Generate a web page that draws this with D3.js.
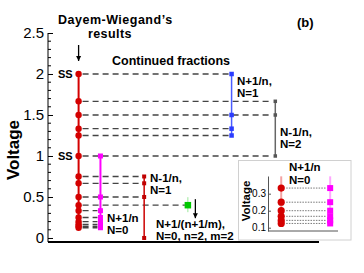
<!DOCTYPE html>
<html>
<head>
<meta charset="utf-8">
<script src="https://cdn.jsdelivr.net/npm/d3@7"></script>
<style>
  body { margin: 0; background: #fff; }
  svg { display: block; font-family: "Liberation Sans", Arial, Helvetica, sans-serif; }
</style>
</head>
<body>
<div id="chart"></div>
<script>
// values
var dayemValues = [2, 1.667, 1.5, 1.333, 1.25, 1, 0.75, 0.667, 0.5, 0.4, 0.333, 0.25, 0.2, 0.167, 0.143, 0.125];
var n0PlusValues = [1, 0.5, 0.333, 0.25, 0.2, 0.167, 0.143, 0.125];
var n1MinusValues = [0.75, 0.667, 0.5, 0];
var mixedValues = [0.4];
var n1PlusValues = [2, 1.5, 1.333, 1.25];
var n2MinusValues = [1.667, 1.5, 1];
var ssValues = [2, 1];
var insetValues = [0.333, 0.25, 0.2, 0.167, 0.143, 0.125];
var yTicks = [0, 0.5, 1, 1.5, 2, 2.5];
var insetTicks = [0.1, 0.2, 0.3];

// column categories and their slot along the (unlabelled) x direction
var columns = ["DW", "N+1/n N=0", "N-1/n N=1", "N+1/(n+1/m)", "N+1/n N=1", "N-1/n N=2"];
var columnSlot = [0, 0.5, 1.5, 2.5, 3.5, 4.5];
var columnValues = [dayemValues, n0PlusValues, n1MinusValues, mixedValues, n1PlusValues, n2MinusValues];

var width = 364, height = 273;
var font = "'Liberation Sans', Arial, Helvetica, sans-serif";

var svg = d3.select("#chart").append("svg")
    .attr("width", width)
    .attr("height", height);

var x = d3.scaleLinear().domain([-0.7, 5.5]).range([48, 319]);
var y = d3.scaleLinear().domain([-0.049, 2.5]).range([242, 33]);

function colX(i) {
    return x(columnSlot[i]);
}

// dashed guide lines: from each Dayem-Wiegand level to the farthest column sharing it
var guides = [];
dayemValues.forEach(function (v) {
    var target = -1;
    for (var i = 1; i < columns.length; i++) {
        if (columnValues[i].some(function (w) { return Math.abs(w - v) < 0.002; })) target = i;
    }
    if (target > 0) guides.push({ v: v, x2: colX(target) });
});

svg.append("g").selectAll("line")
    .data(guides)
    .enter().append("line")
    .attr("x1", colX(0) + 4)
    .attr("x2", function (d) { return d.x2 - 3; })
    .attr("y1", function (d) { return y(d.v); })
    .attr("y2", function (d) { return y(d.v); })
    .style("stroke", "#444")
    .style("stroke-width", 1.3)
    .style("stroke-dasharray", "6,4");

// y axis
var yAxis = d3.axisLeft(y)
    .tickValues(yTicks)
    .tickFormat(function (d) { return d; })
    .tickSizeInner(-5)
    .tickSizeOuter(0)
    .tickPadding(4);

var yg = svg.append("g")
    .attr("transform", "translate(48,0)")
    .call(yAxis);
yg.select(".domain").attr("d", "M0," + y(-0.049) + "V" + y(2.5));
yg.selectAll("text").style("font-size", "15px").style("font-family", font).attr("fill", "#000");

var minor = y.ticks(25).filter(function (t) { return yTicks.indexOf(+t.toFixed(2)) < 0; });
yg.selectAll(".minor")
    .data(minor)
    .enter().append("line")
    .attr("class", "minor")
    .attr("x1", 0).attr("x2", 3)
    .attr("y1", function (d) { return y(d); })
    .attr("y2", function (d) { return y(d); })
    .style("stroke", "#000");

// bottom line
svg.append("line")
    .attr("x1", x.range()[0]).attr("x2", x.range()[1])
    .attr("y1", y(-0.049)).attr("y2", y(-0.049))
    .style("stroke", "#000")
    .style("stroke-width", 2);

svg.append("text")
    .attr("transform", "translate(19,150) rotate(-90)")
    .attr("text-anchor", "middle")
    .style("font-size", "17px")
    .style("font-weight", "bold")
    .text("Voltage");

// vertical series lines and markers
function drawLine(i, color, w) {
    var vals = columnValues[i];
    svg.append("line")
        .attr("x1", colX(i)).attr("x2", colX(i))
        .attr("y1", y(d3.max(vals))).attr("y2", y(d3.min(vals)))
        .style("stroke", color)
        .style("stroke-width", w);
}

function drawSquares(i, color, s) {
    svg.append("g").selectAll("rect")
        .data(columnValues[i])
        .enter().append("rect")
        .attr("x", colX(i) - s / 2)
        .attr("y", function (d) { return y(d) - s / 2; })
        .attr("width", s)
        .attr("height", s)
        .style("fill", color);
}

drawLine(0, "#d40000", 2);
svg.append("g").selectAll("circle")
    .data(dayemValues)
    .enter().append("circle")
    .attr("cx", colX(0))
    .attr("cy", function (d) { return y(d); })
    .attr("r", 3.2)
    .style("fill", "#d40000");

drawLine(1, "#ff00ff", 2);
drawSquares(1, "#ff00ff", 5);

drawLine(2, "#cc0000", 1.5);
drawSquares(2, "#c00000", 4);

// green point with a faint bar
svg.append("line")
    .attr("x1", colX(3)).attr("x2", colX(3))
    .attr("y1", y(mixedValues[0]) - 8).attr("y2", y(mixedValues[0]) + 7)
    .style("stroke", "#9be89b")
    .style("stroke-width", 1);
drawSquares(3, "#00c800", 6.5);

drawLine(4, "#4a5cff", 1.5);
drawSquares(4, "#2b3cff", 4.5);

drawLine(5, "#666", 1.5);
drawSquares(5, "#555", 3.5);

// arrows
svg.append("defs").append("marker")
    .attr("id", "ah")
    .attr("viewBox", "0 0 10 10")
    .attr("refX", 10).attr("refY", 5)
    .attr("markerWidth", 5).attr("markerHeight", 8)
    .attr("markerUnits", "userSpaceOnUse")
    .attr("orient", "auto")
    .append("path").attr("d", "M0,0L10,5L0,10Z").style("fill", "#000");

svg.append("line")
    .attr("x1", colX(0)).attr("x2", colX(0))
    .attr("y1", 45).attr("y2", 61)
    .style("stroke", "#000").style("stroke-width", 1.3)
    .attr("marker-end", "url(#ah)");

svg.append("line")
    .attr("x1", colX(3) + 7.5).attr("x2", colX(3) + 7.5)
    .attr("y1", y(mixedValues[0]) - 6).attr("y2", y(mixedValues[0]) + 13)
    .style("stroke", "#000").style("stroke-width", 1.3)
    .attr("marker-end", "url(#ah)");

// SS labels
svg.append("g").selectAll("text")
    .data(ssValues)
    .enter().append("text")
    .attr("x", 58)
    .attr("y", function (d) { return y(d); })
    .attr("dy", "0.36em")
    .style("font-size", "11px")
    .style("font-weight", "bold")
    .text("SS");

// annotations
function label(lines, x0, y0, size, gap, spacing) {
    var t = svg.append("text")
        .attr("x", x0).attr("y", y0)
        .style("font-size", size + "px")
        .style("font-weight", "bold")
        .style("letter-spacing", (spacing || 0) + "px");
    lines.forEach(function (s, k) {
        t.append("tspan").attr("x", x0).attr("y", y0 + k * gap).text(s);
    });
}

label(["Dayem-Wiegand\u2019s"], 58, 24, 12.5, 0, 0.5);
label(["results"], 88, 38, 12.5, 0, 0.4);
label(["Continued fractions"], 112, 65, 12.5, 0);
label(["(b)"], 297, 27, 13, 0);
label(["N+1/n,", "N=1"], 237, 85, 11.5, 12);
label(["N-1/n,", "N=2"], 280, 136, 11.5, 11.5);
label(["N-1/n,", "N=1"], 150, 182, 11.5, 11.5);
label(["N+1/n", "N=0"], 107, 222, 11.5, 12);
label(["N+1/(n+1/m),", "N=0, n=2, m=2"], 156, 228, 11.5, 11.5);

// inset
var inset = svg.append("g");
inset.append("rect")
    .attr("x", 238.5).attr("y", 160.5)
    .attr("width", 112.5).attr("height", 79.5)
    .style("fill", "#fff")
    .style("stroke", "#d0d0d0")
    .style("stroke-width", 1);

var ix = d3.scaleLinear().domain([-0.27, 1.16]).range([268, 338]);
var iy = d3.scaleLinear().domain([0.0806, 0.404]).range([231, 176]);

inset.append("g").selectAll("line")
    .data(insetValues)
    .enter().append("line")
    .attr("x1", ix(0) + 5).attr("x2", ix(1) - 4)
    .attr("y1", function (d) { return iy(d); })
    .attr("y2", function (d) { return iy(d); })
    .style("stroke", "#555")
    .style("stroke-width", 0.8)
    .style("stroke-dasharray", "1.5,1.2");

[[0, "#f4a3a3"], [1, "#ffa6ff"]].forEach(function (p) {
    inset.append("line")
        .attr("x1", ix(p[0])).attr("x2", ix(p[0]))
        .attr("y1", iy(0.402)).attr("y2", iy(0.113))
        .style("stroke", p[1])
        .style("stroke-width", 2);
});

inset.append("g").selectAll("circle")
    .data(insetValues)
    .enter().append("circle")
    .attr("cx", ix(0))
    .attr("cy", function (d) { return iy(d); })
    .attr("r", 3.6)
    .style("fill", "#d40000");

inset.append("g").selectAll("rect")
    .data(insetValues)
    .enter().append("rect")
    .attr("x", ix(1) - 3)
    .attr("y", function (d) { return iy(d) - 3; })
    .attr("width", 6).attr("height", 6)
    .style("fill", "#ff00ff");

var iAxis = d3.axisLeft(iy)
    .tickValues(insetTicks)
    .tickFormat(function (d) { return d; })
    .tickSizeInner(-3)
    .tickSizeOuter(0)
    .tickPadding(2);
var ig = inset.append("g")
    .attr("transform", "translate(268,0)")
    .call(iAxis);
ig.select(".domain").style("stroke", "#555");
ig.selectAll(".tick line").style("stroke", "#555");
ig.selectAll("text").style("font-size", "10px").style("font-family", font).attr("fill", "#000");

inset.append("line")
    .attr("x1", ix.range()[0]).attr("x2", ix.range()[1])
    .attr("y1", iy.range()[0]).attr("y2", iy.range()[0])
    .style("stroke", "#555")
    .style("stroke-width", 1);

inset.append("text")
    .attr("transform", "translate(250,201) rotate(-90)")
    .attr("text-anchor", "middle")
    .style("font-size", "11.5px")
    .style("font-weight", "bold")
    .text("Voltage");

label(["N+1/n", "N=0"], 289, 171, 11.5, 12.5);
</script>
</body>
</html>
